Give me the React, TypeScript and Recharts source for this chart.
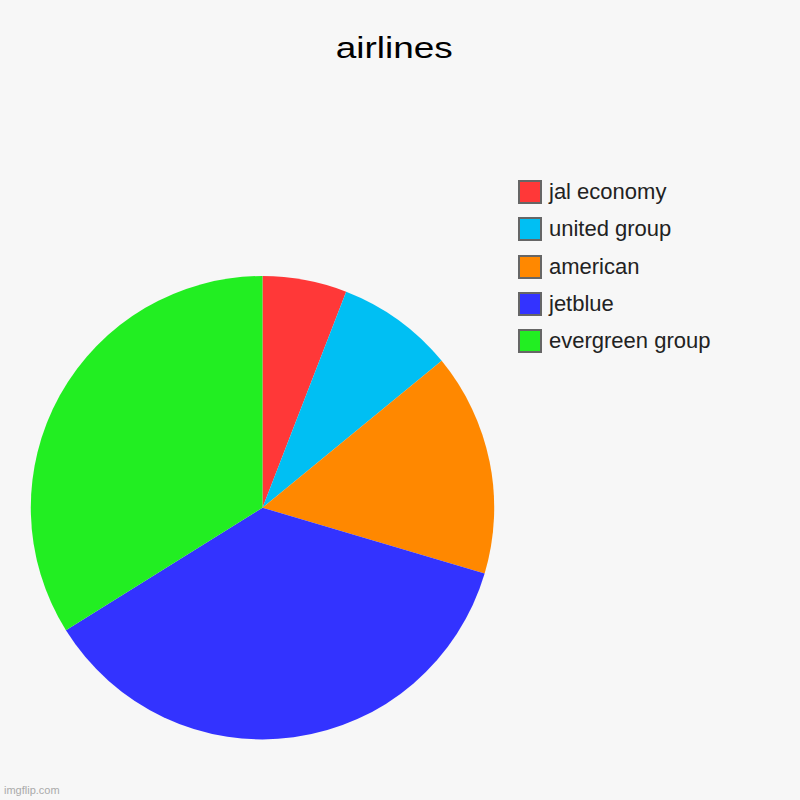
import React from "react";
import { PieChart, Pie, Cell, Legend } from "recharts";

const categories = ["jal economy", "united group", "american", "jetblue", "evergreen group"];
const values = [5.88, 8.19, 15.52, 36.53, 33.88];
const colors = ["#ff3838", "#00bff3", "#ff8800", "#3333ff", "#22ee22"];
const title = "airlines";

const data = categories.map((name, i) => ({ name, value: values[i] }));

const renderLegend = () => {
  return (
    <div style={{ position: "relative", width: 260, height: 200 }}>
      {categories.map((name, i) => (
        <div
          key={name}
          style={{
            position: "absolute",
            left: 0,
            top: i * 37.25,
            height: 24,
            display: "flex",
            alignItems: "center",
            whiteSpace: "nowrap",
          }}
        >
          <div
            style={{
              width: 24,
              height: 24,
              boxSizing: "border-box",
              border: "2px solid #666",
              background: colors[i],
            }}
          />
          <span
            style={{
              marginLeft: 7,
              fontFamily: "'Liberation Sans', Arial, sans-serif",
              fontSize: 22,
              lineHeight: "24px",
              color: "#222",
            }}
          >
            {name}
          </span>
        </div>
      ))}
    </div>
  );
};

export default function App() {
  return (
    <div
      style={{
        position: "absolute",
        left: 0,
        top: 0,
        width: 800,
        height: 800,
        background: "#f7f7f7",
        overflow: "hidden",
      }}
    >
      <svg width={800} height={80} style={{ position: "absolute", left: 0, top: 0 }}>
        <text
          x={335.7}
          y={57.7}
          textLength={117}
          lengthAdjust="spacingAndGlyphs"
          fontFamily="'Liberation Sans', Arial, sans-serif"
          fontSize={30}
          fill="#000"
        >
          {title}
        </text>
      </svg>
      <div style={{ position: "absolute", left: 0, top: 0 }}>
        <PieChart width={800} height={800} margin={{ top: 0, right: 0, bottom: 0, left: 0 }}>
          <Pie
            data={data}
            dataKey="value"
            nameKey="name"
            cx={262.5}
            cy={507.7}
            outerRadius={231.7}
            startAngle={90}
            endAngle={-270}
            stroke="none"
            isAnimationActive={false}
          >
            {data.map((d, i) => (
              <Cell key={d.name} fill={colors[i]} />
            ))}
          </Pie>
          <Legend
            content={renderLegend}
            wrapperStyle={{ position: "absolute", left: 518, top: 180, width: 260, height: 200 }}
          />
        </PieChart>
      </div>
      <div
        style={{
          position: "absolute",
          left: 4,
          top: 784,
          fontFamily: "'Liberation Sans', Arial, sans-serif",
          fontSize: 11,
          color: "#aaa",
        }}
      >
        imgflip.com
      </div>
    </div>
  );
}
